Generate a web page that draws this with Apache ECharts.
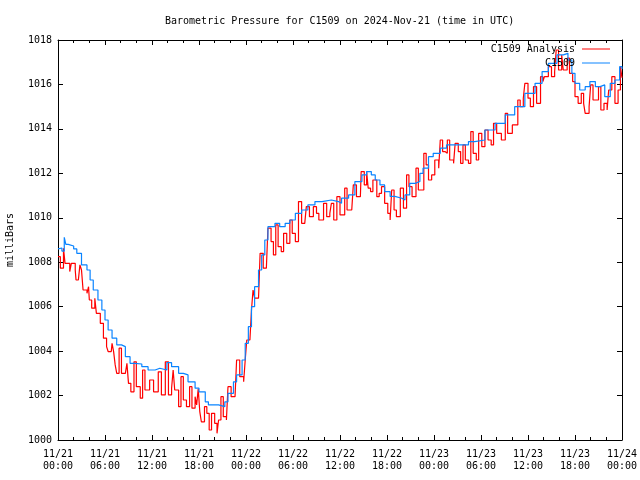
<!DOCTYPE html>
<html>
<head>
<meta charset="utf-8">
<script src="https://cdn.jsdelivr.net/npm/echarts@6/dist/echarts.min.js"></script>
<style>html,body{margin:0;padding:0;background:#fff}#c{width:640px;height:480px}</style>
</head>
<body>
<div id="c"></div>
<script>
// hours since 2024-11-21 00:00 UTC
const redHours = [0.0,0.3,0.7,0.9,1.5,1.7,2.2,2.3,2.6,2.8,3.0,3.2,3.7,3.9,4.0,4.3,4.7,4.9,5.4,5.8,6.2,6.4,6.8,6.9,7.1,7.3,7.5,7.8,8.1,8.6,8.8,9.0,9.3,9.7,10.0,10.5,10.8,11.1,11.7,12.2,12.8,13.2,13.7,14.1,14.5,14.7,14.9,15.4,15.7,16.0,16.4,16.8,17.1,17.5,17.7,17.9,18.1,18.3,18.7,19.0,19.3,19.6,20.0,20.3,20.5,20.8,21.1,21.5,21.7,22.1,22.6,22.8,23.2,23.7,23.9,24.1,24.5,24.7,24.9,25.1,25.6,25.8,26.2,26.6,26.8,27.2,27.5,27.8,28.1,28.5,28.8,29.2,29.6,29.9,30.3,30.7,31.1,31.5,31.7,32.1,32.6,33.0,33.3,33.9,34.3,34.7,34.9,35.2,35.6,36.0,36.3,36.6,36.9,37.5,37.7,38.1,38.6,38.7,39.1,39.4,39.6,39.9,40.2,40.7,41.0,41.3,41.7,42.1,42.4,42.6,42.9,43.2,43.7,44.1,44.5,44.8,45.2,45.7,46.0,46.4,46.7,47.0,47.3,47.7,48.1,48.6,48.8,49.1,49.4,49.7,50.0,50.5,50.7,51.1,51.4,51.7,52.0,52.4,52.7,53.0,53.4,53.7,54.1,54.5,54.9,55.3,55.6,56.0,56.6,57.1,57.4,58.0,58.7,59.0,59.4,59.6,60.0,60.3,60.7,61.1,61.6,61.9,62.1,62.6,63.0,63.4,63.6,63.9,64.3,64.5,65.0,65.3,65.7,66.0,66.4,66.8,67.1,67.3,67.8,68.0,68.3,68.6,69.0,69.3,69.7,70.1,70.3,70.7,71.1,71.5,71.8,72.0];
const redValues = [1008.25,1007.73,1008.63,1007.95,1007.58,1007.95,1007.65,1007.2,1007.28,1007.88,1007.65,1006.75,1006.6,1006.9,1006.3,1005.93,1006.38,1005.7,1005.25,1004.58,1004.2,1003.98,1003.98,1004.35,1003.98,1003.38,1003.0,1004.13,1003.0,1002.93,1003.45,1002.55,1002.17,1003.52,1002.4,1001.88,1003.15,1002.25,1002.7,1002.17,1003.07,1002.03,1003.52,1002.03,1002.33,1003.15,1002.25,1001.5,1002.85,1001.8,1001.5,1002.4,1001.43,1001.95,1001.58,1002.3,1001.28,1000.82,1001.5,1001.2,1000.45,1001.2,1000.75,1000.3,1000.9,1001.95,1001.05,1000.9,1002.4,1001.95,1001.88,1003.6,1002.85,1002.62,1003.6,1004.5,1004.5,1005.85,1006.75,1006.38,1006.38,1008.4,1007.73,1007.65,1009.53,1008.93,1008.33,1009.68,1008.7,1008.48,1009.3,1008.85,1009.9,1009.3,1008.93,1010.73,1009.75,1009.68,1010.5,1010.05,1010.5,1010.2,1009.9,1010.65,1010.05,1010.2,1010.65,1009.9,1010.95,1010.13,1010.13,1011.33,1010.35,1010.43,1011.48,1010.95,1010.88,1012.08,1011.48,1012.08,1011.33,1011.18,1011.7,1010.95,1011.1,1011.4,1010.65,1010.2,1009.9,1011.25,1010.35,1010.05,1011.33,1010.43,1011.93,1011.4,1010.95,1012.23,1011.25,1011.25,1012.9,1012.38,1011.7,1011.93,1012.6,1012.23,1013.5,1012.98,1012.9,1013.5,1012.6,1012.45,1013.35,1012.98,1012.45,1013.28,1012.6,1012.45,1013.88,1012.9,1012.6,1013.8,1013.2,1013.95,1013.5,1013.28,1014.25,1013.8,1013.5,1014.7,1013.8,1014.18,1015.3,1015.0,1015.38,1016.05,1015.38,1015.0,1015.9,1015.15,1016.35,1016.13,1016.35,1016.8,1016.35,1016.58,1017.55,1016.65,1017.33,1016.65,1017.18,1016.5,1016.13,1015.45,1015.15,1015.6,1015.15,1014.7,1015.0,1015.98,1015.3,1015.3,1015.9,1014.85,1015.15,1014.85,1015.75,1016.35,1015.15,1015.75,1016.8,1016.3];

const blueHours = [0.0,0.13,0.5,0.8,1.0,1.3,2.0,2.4,3.0,3.7,4.1,4.5,5.1,5.6,6.0,6.4,6.9,7.5,8.1,8.6,9.2,9.8,10.7,11.5,12.4,13.0,13.9,14.5,15.4,16.0,16.6,17.5,18.0,18.8,19.2,20.5,21.3,21.7,22.4,22.8,23.5,23.9,24.3,24.7,25.1,25.6,26.0,26.4,26.8,27.7,28.3,29.0,29.6,30.3,31.1,31.9,32.8,33.7,34.9,35.8,36.2,37.1,37.9,38.8,39.4,40.0,40.5,41.1,41.7,42.4,43.0,43.9,44.3,44.9,45.6,46.2,46.6,47.3,47.9,48.8,49.6,50.7,51.5,52.4,53.2,54.5,55.8,57.1,58.3,59.6,60.9,61.8,62.6,63.7,64.5,65.1,65.6,66.0,66.6,67.3,67.9,68.6,69.2,69.8,70.5,71.1,71.7,72.0];
const blueValues = [1008.6,1008.64,1008.5,1009.12,1008.8,1008.73,1008.6,1008.4,1007.88,1007.65,1007.2,1006.75,1006.3,1005.85,1005.4,1004.95,1004.58,1004.28,1004.2,1003.75,1003.45,1003.42,1003.3,1003.15,1003.23,1003.15,1003.48,1003.3,1003.0,1002.93,1002.62,1002.33,1002.17,1001.72,1001.58,1001.5,1001.72,1002.1,1002.62,1002.93,1003.6,1004.35,1005.1,1006.0,1006.9,1007.65,1008.33,1009.0,1009.6,1009.75,1009.6,1009.75,1009.9,1010.2,1010.35,1010.58,1010.73,1010.8,1010.73,1010.65,1010.88,1011.03,1011.63,1011.93,1012.08,1011.93,1011.7,1011.48,1011.18,1010.96,1010.88,1010.8,1011.03,1011.55,1011.63,1012.0,1012.23,1012.75,1012.9,1013.13,1013.28,1013.28,1013.28,1013.43,1013.5,1013.95,1014.25,1014.63,1015.0,1015.6,1016.05,1016.58,1016.95,1017.33,1017.4,1017.1,1016.5,1016.05,1015.75,1015.9,1016.13,1015.9,1015.98,1015.45,1016.05,1016.2,1016.8,1016.7];

const seriesNames = ['C1509 Analysis', 'C1509'];
const titleText = 'Barometric Pressure for C1509 on 2024-Nov-21 (time in UTC)';
const yAxisName = 'milliBars';

const FONT = 'DejaVu Sans Mono';
const chart = echarts.init(document.getElementById('c'), null, {renderer: 'canvas'});
function xLabel(v) {
  const day = 21 + Math.floor(v / 24);
  const hr = v % 24;
  return '11/' + day + '\n' + String(hr).padStart(2, '0') + ':00';
}
const axisLineStyle = {color: '#000', width: 1};
chart.setOption({
  animation: false,
  backgroundColor: '#fff',
  textStyle: {fontFamily: FONT},
  title: {text: titleText, left: 165, top: 16, padding: 0,
    textStyle: {fontFamily: FONT, fontSize: 10, fontWeight: 'normal', color: '#000'}},
  legend: [
    {data: [seriesNames[0]], right: 30, top: 44, padding: 0, align: 'right', icon: 'rect', itemWidth: 28, itemHeight: 1, itemGap: 0,
      textStyle: {fontFamily: FONT, fontSize: 10, color: '#000', padding: [0, 2, 0, 0]}},
    {data: [seriesNames[1]], right: 30, top: 58, padding: 0, align: 'right', icon: 'rect', itemWidth: 28, itemHeight: 1, itemGap: 0,
      textStyle: {fontFamily: FONT, fontSize: 10, color: '#000', padding: [0, 2, 0, 0]}}
  ],
  grid: {left: 58, right: 18, top: 40, bottom: 40, containLabel: false, outerBoundsMode: 'none'},
  xAxis: [
    {type: 'value', min: 0, max: 72, interval: 6, position: 'bottom',
      axisLine: {show: true, onZero: false, lineStyle: axisLineStyle},
      axisTick: {inside: true, length: 5, lineStyle: axisLineStyle},
      minorTick: {show: true, splitNumber: 3, length: 3, lineStyle: {color: '#000'}},
      splitLine: {show: false},
      axisLabel: {formatter: xLabel, color: '#000', fontFamily: FONT, fontSize: 10, lineHeight: 12, margin: 8, showMinLabel: true, showMaxLabel: true}},
    {type: 'value', min: 0, max: 72, interval: 6, position: 'top',
      axisLine: {show: true, onZero: false, lineStyle: axisLineStyle},
      axisTick: {inside: true, length: 5, lineStyle: axisLineStyle},
      minorTick: {show: true, splitNumber: 3, length: 3, lineStyle: {color: '#000'}},
      splitLine: {show: false}, axisLabel: {show: false}}
  ],
  yAxis: [
    {type: 'value', min: 1000, max: 1018, interval: 2, position: 'left',
      name: yAxisName, nameLocation: 'middle', nameGap: 43, nameRotate: 90,
      nameTextStyle: {fontFamily: FONT, fontSize: 10, color: '#000'},
      axisLine: {show: true, onZero: false, lineStyle: axisLineStyle},
      axisTick: {inside: true, length: 5, lineStyle: axisLineStyle},
      splitLine: {show: false},
      axisLabel: {color: '#000', fontFamily: FONT, fontSize: 10, margin: 6, formatter: v => String(v)}},
    {type: 'value', min: 1000, max: 1018, interval: 2, position: 'right',
      axisLine: {show: true, onZero: false, lineStyle: axisLineStyle},
      axisTick: {inside: true, length: 5, lineStyle: axisLineStyle},
      splitLine: {show: false}, axisLabel: {show: false}}
  ],
  series: [
    {name: seriesNames[0], type: 'line', step: 'end', showSymbol: false, xAxisIndex: 0, yAxisIndex: 0,
      data: redHours.map((h, i) => [h, redValues[i]]),
      itemStyle: {color: '#ff0000'}, lineStyle: {color: '#ff0000', width: 1.2}},
    {name: seriesNames[1], type: 'line', step: 'end', showSymbol: false, xAxisIndex: 0, yAxisIndex: 0,
      data: blueHours.map((h, i) => [h, blueValues[i]]),
      itemStyle: {color: '#0a84ff'}, lineStyle: {color: '#0a84ff', width: 1.2}}
  ]
});
</script>
</body>
</html>
